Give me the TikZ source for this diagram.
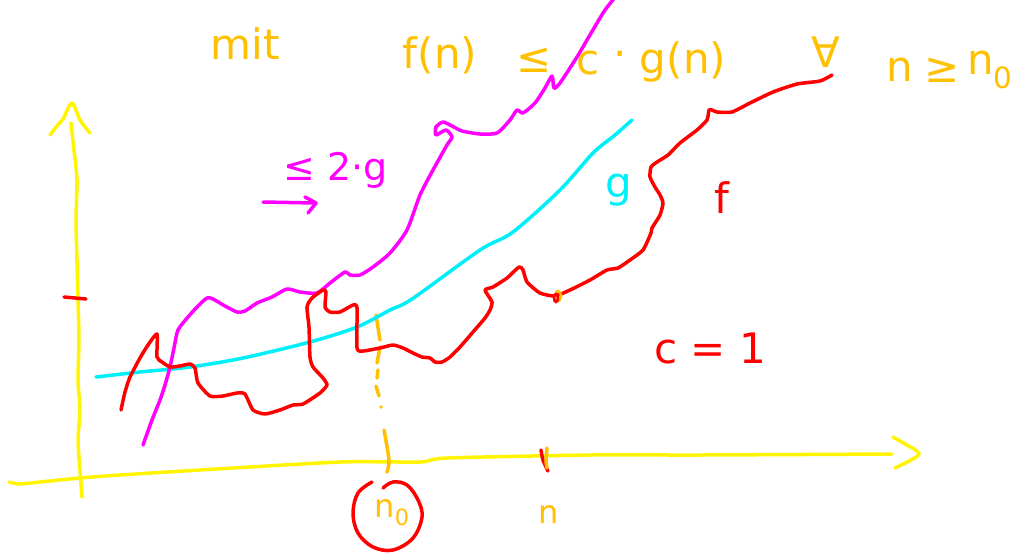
\documentclass[tikz,border=0pt]{standalone}
\usepackage{fontspec}
\setmainfont{DejaVu Sans}
\definecolor{hy}{RGB}{255,245,0}
\definecolor{ho}{RGB}{255,192,0}
\definecolor{hm}{RGB}{255,0,255}
\definecolor{hc}{RGB}{0,240,250}
\definecolor{hr}{RGB}{255,0,0}
\begin{document}
\begin{tikzpicture}[x=1pt,y=-1pt,
  pen/.style={line width=3.5pt,line cap=round,line join=round},
  txt/.style={inner sep=0pt,font=\fontsize{42}{46}\selectfont},
  mtxt/.style={inner sep=0pt,font=\fontsize{38}{42}\selectfont},
  stxt/.style={inner sep=0pt,font=\fontsize{32}{36}\selectfont}]
\useasboundingbox[fill=white] (0,0) rectangle (1017,558);

% axes
\draw[pen,hy] plot[smooth,tension=0.4] coordinates {(82,497) (80,470) (78,440) (80,410) (78,380) (79,340) (78,300) (77,260) (76,220) (77,180) (74,150) (71,123)};
\draw[pen,hy] plot[smooth,tension=0.5] coordinates {(50,135) (56,127) (63,119) (72,103) (80,120) (90,133)};
\draw[pen,hy] plot[smooth,tension=0.4] coordinates {(9,482) (20,484) (40,482) (80,478) (120,475) (200,470) (340,462) (420,462) (447,458) (590,455) (700,455) (892,454)};
\draw[pen,hy] plot[smooth,tension=0.5] coordinates {(893,437) (907,445) (919,453) (913,459) (895,468)};
\coordinate (yt) at (64,297);
\draw[pen,hr] (yt) -- (86,299);

% dashed n0 marker
\draw[pen,ho] (376,315) -- (380,340);
\draw[pen,ho] (380,347) -- (377,363);
\draw[pen,ho] (378,370) -- (377,378);
\draw[pen,ho] (376,386) -- (379,396);
\fill[ho] (381,407) circle (1.8);
\draw[pen,ho] plot[smooth] coordinates {(384,430) (389,460) (387,472)};
% n tick
\draw[pen,hr] plot[smooth] coordinates {(541,450) (543,460) (548,471)};
\draw[pen,ho] plot[smooth] coordinates {(547,448) (546,460) (547,468)};

% g curve
\draw[pen,hc] plot[smooth,tension=0.5] coordinates {(96,377) (140,372) (190,367) (243,358) (310,342) (357,327) (390,310) (412,299) (480,250) (513,232) (560,190) (593,153) (615,135) (632,120)};

% 2g curve
\draw[pen,hm] plot[smooth,tension=0.4] coordinates {(143,445) (152,420) (160,400) (165,385) (170,367) (174,348) (178,330) (188,317) (198,306) (207,298) (213,299) (225,306) (237,312) (245,311) (257,303) (272,297) (287,289) (300,292) (317,293) (330,283) (345,272) (350,275) (360,275) (373,267) (390,253) (407,230) (420,195) (433,170) (447,145) (452,137) (446,130) (436,135) (436,127) (443,122) (452,126) (462,131) (480,134) (497,133) (510,120) (517,110) (523,113) (535,103) (545,88) (552,76) (554,88) (560,83) (577,57) (587,40) (597,23) (605,10) (616,-4)};

% f curve
\draw[pen,hr] plot[smooth,tension=0.35] coordinates {(121,410) (125,392) (130,377) (140,358) (148,345) (157,334) (157,357) (162,362) (170,367) (180,366) (190,364) (195,368) (198,383) (210,396) (223,396) (237,393) (245,394) (253,410) (265,414) (280,410) (293,405) (303,404) (320,393) (327,385) (323,378) (313,367) (310,357) (309,327) (307,307) (312,298) (323,290) (326,292) (325,307) (330,312) (340,312) (353,305) (357,308) (357,348) (363,351) (380,348) (393,345) (403,348) (413,353) (422,357) (430,358) (435,362) (442,362) (450,357) (460,347) (473,332) (485,318) (490,310) (492,302) (485,290) (493,287) (507,278) (519,267) (523,270) (527,282) (540,293) (555,296) (570,290) (590,280) (607,270) (618,268) (630,260) (643,250) (651,233) (652,228) (660,215) (663,203) (660,195) (655,187) (650,177) (651,167) (657,162) (668,155) (680,143) (697,130) (707,120) (709,110) (712,110) (717,112) (732,112) (750,103) (773,92) (797,84) (820,81) (832,75)};
\draw[line width=2.5pt,ho] (558,296) ellipse (3 and 5);
\draw[line width=2.5pt,hr] (556,298) ellipse (2 and 4);

% header text
\node[txt,ho] (mit) at (245,44) {mit};
\node[txt,ho] (fn) at (440,55) {f(n)};
\node[txt,ho] (le) at (534,60) {≤};
\node[txt,ho] (cc) at (588,63) {c};
\node[txt,ho] (dot) at (620,60) {·};
\node[txt,ho] (gn) at (683,62) {g(n)};
\node[txt,ho] (fa) at (826,52) {∀};
\node[txt,ho] (nn) at (900,70) {n};
\node[txt,ho] (ge) at (942,70) {≥};
\node[txt,ho] (nz) at (990,70) {n\textsubscript{0}};

% labels
\node[mtxt,hm] (le2g) at (336,170) {≤ 2·g};
\coordinate (a1) at (263,202);
\coordinate (a2) at (315,203);
\draw[pen,hm] (a1) -- (a2);
\draw[pen,hm] (305,197) -- (316,203) -- (308,213);
\node[txt,hc] (glab) at (619,190) {g};
\node[txt,hr] (flab) at (722,198) {f};
\node[txt,hr] (c1) at (710,348) {c = 1};

% n0 circled
\node[stxt,ho] (n0) at (392,513) {n\textsubscript{0}};
\draw[pen,hr] plot[smooth,tension=0.6] coordinates {(372,482) (358,493) (353,513) (358,533) (373,547) (393,550) (413,538) (422,517) (418,500) (407,485) (393,482) (383,488)};
\node[stxt,ho] (nlab) at (549,515) {n};
\end{tikzpicture}
\end{document}
